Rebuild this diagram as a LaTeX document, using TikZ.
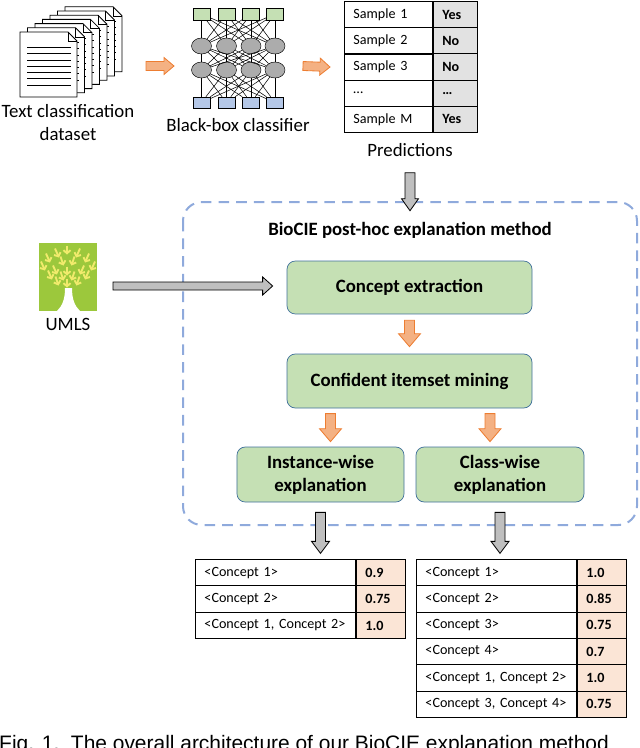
\documentclass[tikz,border=0pt]{standalone}
\usepackage{fontspec}
\setmainfont{Carlito}
\newfontfamily\capfont{Liberation Sans}
\usetikzlibrary{positioning,calc,shapes.geometric,arrows.meta}

\definecolor{boxgreen}{HTML}{C5E0B4}
\definecolor{boxedge}{HTML}{41719C}
\definecolor{orangefill}{HTML}{F4B183}
\definecolor{orangeedge}{HTML}{ED7D31}
\definecolor{dashblue}{HTML}{8FAADC}
\definecolor{predgray}{HTML}{E2E2E2}
\definecolor{valpeach}{HTML}{FBE5D6}
\definecolor{sqblue}{HTML}{B4C7E7}
\definecolor{umlsgreen}{HTML}{9CC83C}
\definecolor{umlsyellow}{HTML}{F1EB6C}

\tikzset{
  stepbox/.style={draw=boxedge, fill=boxgreen, rounded corners=7pt, line width=0.6pt,
    align=center, font=\fontsize{16}{19.5}\selectfont\bfseries},
  cell/.style={draw, line width=0.8pt, anchor=north west, inner xsep=7.65pt, inner ysep=0pt,
    minimum height=22.4pt, align=left, font=\fontsize{12}{15}\selectfont},
  label/.style={font=\fontsize{16}{19.5}\selectfont, align=center},
  orangearrow/.style={fill=orangefill, draw=orangeedge, line width=0.7pt},
  grayarrow/.style={fill=gray!50, draw=black, line width=0.7pt},
  topsq/.style={draw, fill=boxgreen, minimum width=14.5pt, minimum height=10.2pt, inner sep=0pt},
  botsq/.style={draw, fill=sqblue, minimum width=14.5pt, minimum height=9.4pt, inner sep=0pt},
  neuron/.style={draw, ellipse, fill=gray!65, minimum width=17pt, minimum height=13.6pt, inner sep=0pt},
  netedge/.style={line width=0.45pt},
  umlsarrow/.style={draw=umlsyellow, line width=1.6pt, -{Straight Barb[length=2.6pt,width=6pt]}}
}

\newcommand{\blockarrow}[6]{%
  \path (#2) coordinate (ba-s) (#3) coordinate (ba-e);
  \path ($(ba-e)!#6!(ba-s)$) coordinate (ba-h);
  \draw[#1] ($(ba-s)!#4!90:(ba-e)$) -- ($(ba-h)!#4!-90:(ba-s)$) -- ($(ba-h)!#5!-90:(ba-s)$)
    -- (ba-e) -- ($(ba-h)!#5!90:(ba-s)$) -- ($(ba-h)!#4!90:(ba-s)$) -- ($(ba-s)!#4!-90:(ba-e)$) -- cycle;
}

\begin{document}
\begin{tikzpicture}[x=0.85pt,y=-0.85pt]
\useasboundingbox (0,0) rectangle (640,748);
\clip (0,0) rectangle (640,748);

% text classification dataset
\foreach \k in {6,5,...,0}{
  \begin{scope}[shift={(7.5*\k,-4.2*\k)}]
    \draw[fill=white, line width=0.7pt] (20,32) -- (68,32) -- (77,41) -- (77,97) -- (20,97) -- cycle;
    \draw[line width=0.5pt] (68,32) -- (68,41) -- (77,41);
    \foreach \ly in {47,53,60,66,72,78,85}
      \draw[line width=0.7pt] (27,\ly) -- (71,\ly);
  \end{scope}
}
\node[label] (dataset) at (68,123) {Text classification\\dataset};

% black-box classifier
\foreach \x [count=\i] in {201.5,226.5,251,275}{
  \node[topsq] (t\i) at (\x,14) {};
  \node[neuron] (e\i) at (\x,46) {};
  \node[neuron] (f\i) at (\x,70) {};
  \node[botsq] (b\i) at (\x,102.5) {};
}
\foreach \i in {1,...,4}{
  \foreach \j in {1,...,4}{
    \draw[netedge] (t\i) -- (e\j);
    \draw[netedge] (e\i) -- (f\j);
    \draw[netedge] (f\i) -- (b\j);
  }
}
\node[label] (classifier) at (238,125) {Black-box classifier};

% predictions
\foreach \s/\v [count=\i] in {{Sample 1}/{Yes},{Sample 2}/{No},{Sample 3}/{No},{\dots}/{\dots},{Sample M}/{Yes}}{
  \node[cell, text width=59.5pt] (pl-\i) at (344,{1+26.2*(\i-1)}) {\s};
  \node[cell, text width=21.8pt, fill=predgray, font=\fontsize{12}{15}\selectfont\bfseries] (pr-\i) at (pl-\i.north east) {\v};
}
\node[label] (predlbl) at (410,150) {Predictions};

\coordinate (docs-e) at (146,66);
\coordinate (net-w) at (174,66);
\coordinate (net-e) at (303,66);
\blockarrow{orangearrow}{docs-e}{net-w}{3.8pt}{7.2pt}{8.5pt}
\blockarrow{orangearrow}{net-e}{$(pl-3.west)+(-14,0)$}{3.8pt}{7.2pt}{8.5pt}

% BioCIE
\draw[dashblue, line width=1.7pt, dash pattern=on 9pt off 6pt, rounded corners=16pt] (183,202) rectangle (637,525);
\node[font=\fontsize{16}{19.5}\selectfont\bfseries] (title) at (410,230) {BioCIE post-hoc explanation method};

\node[stepbox, minimum width=208.25pt, minimum height=45pt] (ce) at (409.5,287.5) {Concept extraction};
\node[stepbox, minimum width=208.25pt, minimum height=45.9pt] (cim) at (409.5,381) {Confident itemset mining};
\node[stepbox, minimum width=142pt, minimum height=46.75pt] (iw) at (320.5,474.5) {Instance-wise\\explanation};
\node[stepbox, minimum width=142.8pt, minimum height=46.75pt] (cw) at (500,474.5) {Class-wise\\explanation};

\blockarrow{grayarrow}{$(predlbl.south)+(0,12)$}{$(title.north)+(0,-7)$}{4.25pt}{7.2pt}{10.2pt}
\blockarrow{orangearrow}{$(ce.south)+(0,6)$}{$(cim.north)+(0,-7)$}{4.25pt}{9.35pt}{11pt}
\blockarrow{orangearrow}{$(iw.north)+(10,-33)$}{$(iw.north)+(10,-5)$}{4.25pt}{9.35pt}{11pt}
\blockarrow{orangearrow}{$(cw.north)+(-10,-33)$}{$(cw.north)+(-10,-5)$}{4.25pt}{9.35pt}{11pt}

% UMLS
\fill[umlsgreen] (39,243) rectangle (97,311);
\fill[white] (57,311) .. controls (62,306) and (65,300) .. (65,288) -- (72,288) .. controls (72,300) and (75,306) .. (80,311) -- cycle;
\foreach \ax/\ay/\dx in {67/250/0,57/253/4,78/253/-4,48/258/4,87/258/-4,62/261/3,73/261/-3,43/266/4,93/266/-4,55/270/4,82/270/-4,67/271/0,50/275/4,87/275/-4,62/276/3,73/276/-3,57/281/3,78/281/-3,67/283/0}
  \draw[umlsarrow] ({\ax-\dx/2},{\ay-4.5}) -- ({\ax+\dx/2},{\ay+4.5});
\node[label] (umls) at (68,324) {UMLS};
\coordinate (umls-e) at (113,286);
\blockarrow{grayarrow}{umls-e}{$(ce.west)+(-14,-1.5)$}{3.4pt}{7.65pt}{8.5pt}

% explanations
\blockarrow{grayarrow}{$(iw.south)+(0,10)$}{$(iw.south)+(0,51)$}{4.25pt}{7.65pt}{10.2pt}
\blockarrow{grayarrow}{$(cw.south)+(0,10)$}{$(cw.south)+(0,51)$}{4.25pt}{7.65pt}{10.2pt}

\foreach \c/\v [count=\i] in {{<Concept 1>}/{0.9},{<Concept 2>}/{0.75},{<Concept 1, Concept 2>}/{1.0}}{
  \node[cell, text width=120.7pt] (tl-\i) at (195,{559+26.4*(\i-1)}) {\c};
  \node[cell, text width=26.35pt, fill=valpeach, font=\fontsize{12}{15}\selectfont\bfseries] (tv-\i) at (tl-\i.north east) {\v};
}
\foreach \c/\v [count=\i] in {{<Concept 1>}/{1.0},{<Concept 2>}/{0.85},{<Concept 3>}/{0.75},{<Concept 4>}/{0.7},{<Concept 1, Concept 2>}/{1.0},{<Concept 3, Concept 4>}/{0.75}}{
  \node[cell, text width=120.7pt] (rl-\i) at (416,{559+26.3*(\i-1)}) {\c};
  \node[cell, text width=26.35pt, fill=valpeach, font=\fontsize{12}{15}\selectfont\bfseries] (rv-\i) at (rl-\i.north east) {\v};
}

\node[anchor=base west, inner sep=0pt, font=\capfont\fontsize{17.8}{20}\selectfont] (caption) at (-1,750.5) {Fig. 1.\ \ The overall architecture of our BioCIE explanation method};
\end{tikzpicture}
\end{document}
